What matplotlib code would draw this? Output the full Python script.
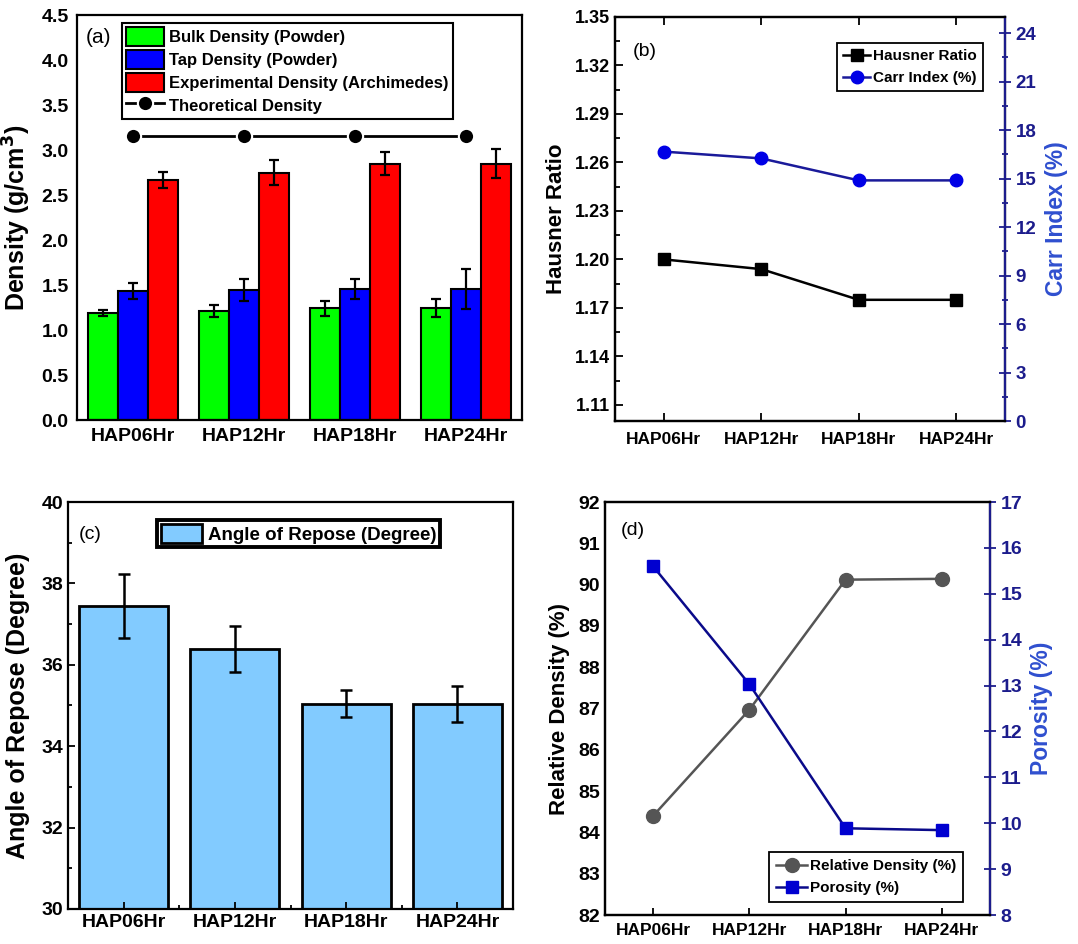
import numpy as np
import matplotlib
matplotlib.use("Agg")
import matplotlib.pyplot as plt
from matplotlib.ticker import MultipleLocator, FixedLocator

# fonte parecida com Arial negrito
plt.rcParams['font.family'] = ['Liberation Sans', 'DejaVu Sans']
plt.rcParams['font.weight'] = 'bold'
plt.rcParams['axes.labelweight'] = 'bold'
plt.rcParams['axes.linewidth'] = 1.6
plt.rcParams['mathtext.default'] = 'bf'

# dados
amostras = ['HAP06Hr', 'HAP12Hr', 'HAP18Hr', 'HAP24Hr']

bulk = [1.19, 1.21, 1.24, 1.24]
bulk_err = [0.03, 0.065, 0.08, 0.10]
tap = [1.43, 1.445, 1.455, 1.455]
tap_err = [0.09, 0.12, 0.11, 0.22]
exper = [2.667, 2.75, 2.85, 2.85]
exper_err = [0.09, 0.14, 0.125, 0.165]
teorica = [3.156, 3.156, 3.156, 3.156]

hausner = [1.200, 1.194, 1.175, 1.175]
carr = [16.67, 16.25, 14.89, 14.89]

repouso = [37.45, 36.39, 35.04, 35.04]
repouso_err = [0.79, 0.56, 0.33, 0.44]

rel_dens = [84.4, 86.97, 90.12, 90.14]
porosidade = [15.6, 13.03, 9.89, 9.85]

x = np.arange(1, len(amostras) + 1)

fig = plt.figure(figsize=(10.78, 9.44), dpi=100)

azul_eixo = '#1c1c8c'
azul_rotulo = '#2f4fcf'

# ---------------- (a) ----------------
ax = fig.add_axes([0.0714, 0.555, 0.4128, 0.429])
w = 0.27
kw = dict(edgecolor='black', linewidth=1.5, capsize=3.5,
          error_kw=dict(elinewidth=1.6, capthick=1.6, ecolor='black'))
ax.bar(x - w, bulk, w, yerr=bulk_err, color='#00ff00', label='Bulk Density (Powder)', **kw)
ax.bar(x, tap, w, yerr=tap_err, color='#0000ff', label='Tap Density (Powder)', **kw)
ax.bar(x + w, exper, w, yerr=exper_err, color='#ff0000', label='Experimental Density (Archimedes)', **kw)
ax.plot(x, teorica, '-o', color='black', lw=2, markersize=11, markeredgecolor='white',
        markeredgewidth=1.5, label='Theoretical Density')
ax.set_xlim(0.5, 4.5)
ax.set_ylim(0, 4.5)
ax.yaxis.set_major_locator(MultipleLocator(0.5))
ax.yaxis.set_major_formatter(matplotlib.ticker.FormatStrFormatter('%.1f'))
ax.set_xticks(x)
ax.set_xticklabels(amostras)
ax.tick_params(axis='both', length=0, labelsize=14, pad=6)
ax.set_ylabel('Density (g/cm$^{3}$)', fontsize=18, labelpad=6)
ax.text(0.02, 0.945, '(a)', transform=ax.transAxes, fontsize=15, fontweight='normal', va='center')
h, l = ax.get_legend_handles_labels()
h = h[1:] + h[:1]
l = l[1:] + l[:1]
leg = ax.legend(h, l, loc='upper left', bbox_to_anchor=(0.101, 0.98), borderaxespad=0,
                fontsize=12, fancybox=False, edgecolor='black', framealpha=1,
                handlelength=2.3, handleheight=1.35, handletextpad=0.3,
                labelspacing=0.25, borderpad=0.25)
leg.get_frame().set_linewidth(1.5)

# ---------------- (b) ----------------
ax = fig.add_axes([0.5705, 0.554, 0.3618, 0.428])
ax2 = ax.twinx()
ax.plot(x, hausner, '-s', color='black', lw=1.8, markersize=8, label='Hausner Ratio')
ax2.plot(x, carr, '-o', color='#1a1a9a', lw=1.8, markersize=9, markerfacecolor='#0000e6',
         markeredgecolor='#0000e6', label='Carr Index (%)')
ax.set_xlim(0.5, 4.5)
ax.set_ylim(1.10, 1.35)
ax2.set_ylim(0, 25)
ax.yaxis.set_major_locator(FixedLocator([1.11, 1.14, 1.17, 1.20, 1.23, 1.26, 1.29, 1.32, 1.35]))
ax.yaxis.set_minor_locator(FixedLocator([1.125, 1.155, 1.185, 1.215, 1.245, 1.275, 1.305, 1.335]))
ax.yaxis.set_major_formatter(matplotlib.ticker.FormatStrFormatter('%.2f'))
ax2.yaxis.set_major_locator(MultipleLocator(3))
ax2.yaxis.set_minor_locator(MultipleLocator(1.5))
ax.set_xticks(x)
ax.set_xticklabels(amostras)
ax.tick_params(axis='both', which='major', direction='in', length=6, width=1.3, labelsize=13,
               top=True)
ax.tick_params(axis='y', which='minor', direction='in', length=3.5, width=1.3)
ax.tick_params(axis='x', pad=8, labelsize=12.5)
ax2.tick_params(axis='y', which='major', direction='inout', length=8, width=1.3, colors=azul_eixo,
                labelsize=13.5)
ax2.tick_params(axis='y', which='minor', direction='inout', length=5, width=1.3, colors=azul_eixo)
ax2.spines['right'].set_color(azul_eixo)
ax.set_ylabel('Hausner Ratio', fontsize=16, labelpad=6)
ax2.set_ylabel('Carr Index (%)', fontsize=16.5, color=azul_rotulo, labelpad=6)
ax.text(0.045, 0.915, '(b)', transform=ax.transAxes, fontsize=14, fontweight='normal', va='center')
h1, l1 = ax.get_legend_handles_labels()
h2, l2 = ax2.get_legend_handles_labels()
leg = ax2.legend(h1 + h2, l1 + l2, loc='upper right', bbox_to_anchor=(0.944, 0.936), borderaxespad=0,
                 fontsize=11, fancybox=False, edgecolor='black', framealpha=1,
                 handlelength=1.8, handletextpad=0.2, labelspacing=0.55, borderpad=0.4)
leg.get_frame().set_linewidth(1.3)

# ---------------- (c) ----------------
ax = fig.add_axes([0.0631, 0.0371, 0.4128, 0.4311])
ax.bar(x, repouso, 0.8, yerr=repouso_err, color='#82cbff', edgecolor='black', linewidth=2,
       capsize=4, error_kw=dict(elinewidth=1.8, capthick=1.8, ecolor='black'),
       label='Angle of Repose (Degree)')
ax.set_xlim(0.5, 4.5)
ax.set_ylim(30, 40)
ax.yaxis.set_major_locator(MultipleLocator(2))
ax.yaxis.set_minor_locator(MultipleLocator(1))
ax.set_xticks(x)
ax.set_xticklabels(amostras)
ax.xaxis.set_minor_locator(FixedLocator([1.5, 2.5, 3.5]))
ax.tick_params(axis='both', which='major', direction='in', length=5, width=1.3, labelsize=14)
ax.tick_params(axis='both', which='minor', direction='in', length=3, width=1.3)
ax.set_ylabel('Angle of Repose (Degree)', fontsize=18, labelpad=8)
ax.text(0.025, 0.92, '(c)', transform=ax.transAxes, fontsize=14, fontweight='normal', va='center')
leg = ax.legend(loc='upper left', bbox_to_anchor=(0.2, 0.956), borderaxespad=0,
                fontsize=13.5, fancybox=False, edgecolor='black', framealpha=1,
                handlelength=2.2, handleheight=1.2, handletextpad=0.3, borderpad=0.2)
leg.get_frame().set_linewidth(2.8)

# ---------------- (d) ----------------
ax = fig.add_axes([0.5612, 0.0307, 0.3571, 0.4375])
ax2 = ax.twinx()
ax.plot(x, rel_dens, '-o', color='#555555', lw=1.8, markersize=10, label='Relative Density (%)')
ax2.plot(x, porosidade, '-s', color='#0a0a8a', lw=1.8, markersize=8, markerfacecolor='#0000d0',
         markeredgecolor='#0000d0', label='Porosity (%)')
ax.set_xlim(0.5, 4.5)
ax.set_ylim(82, 92)
ax2.set_ylim(8, 17)
ax.yaxis.set_major_locator(MultipleLocator(1))
ax2.yaxis.set_major_locator(MultipleLocator(1))
ax.set_xticks(x)
ax.set_xticklabels(amostras)
ax.tick_params(axis='x', which='major', direction='in', length=5, width=1.3, labelsize=12.5, pad=6)
ax.tick_params(axis='y', which='major', length=0, labelsize=14)
ax2.tick_params(axis='y', which='major', direction='inout', length=8, width=1.3, colors=azul_eixo,
                labelsize=14)
ax2.spines['right'].set_color(azul_eixo)
ax.set_ylabel('Relative Density (%)', fontsize=16, labelpad=6)
ax2.set_ylabel('Porosity (%)', fontsize=16.5, color=azul_rotulo, labelpad=6)
ax.text(0.04, 0.93, '(d)', transform=ax.transAxes, fontsize=14, fontweight='normal', va='center')
h1, l1 = ax.get_legend_handles_labels()
h2, l2 = ax2.get_legend_handles_labels()
leg = ax2.legend(h1 + h2, l1 + l2, loc='lower right', bbox_to_anchor=(0.93, 0.031), borderaxespad=0,
                 fontsize=11, fancybox=False, edgecolor='black', framealpha=1,
                 handlelength=2.0, handletextpad=0.2, labelspacing=0.55, borderpad=0.45)
leg.get_frame().set_linewidth(1.3)

fig.savefig('out.png', dpi=100)
